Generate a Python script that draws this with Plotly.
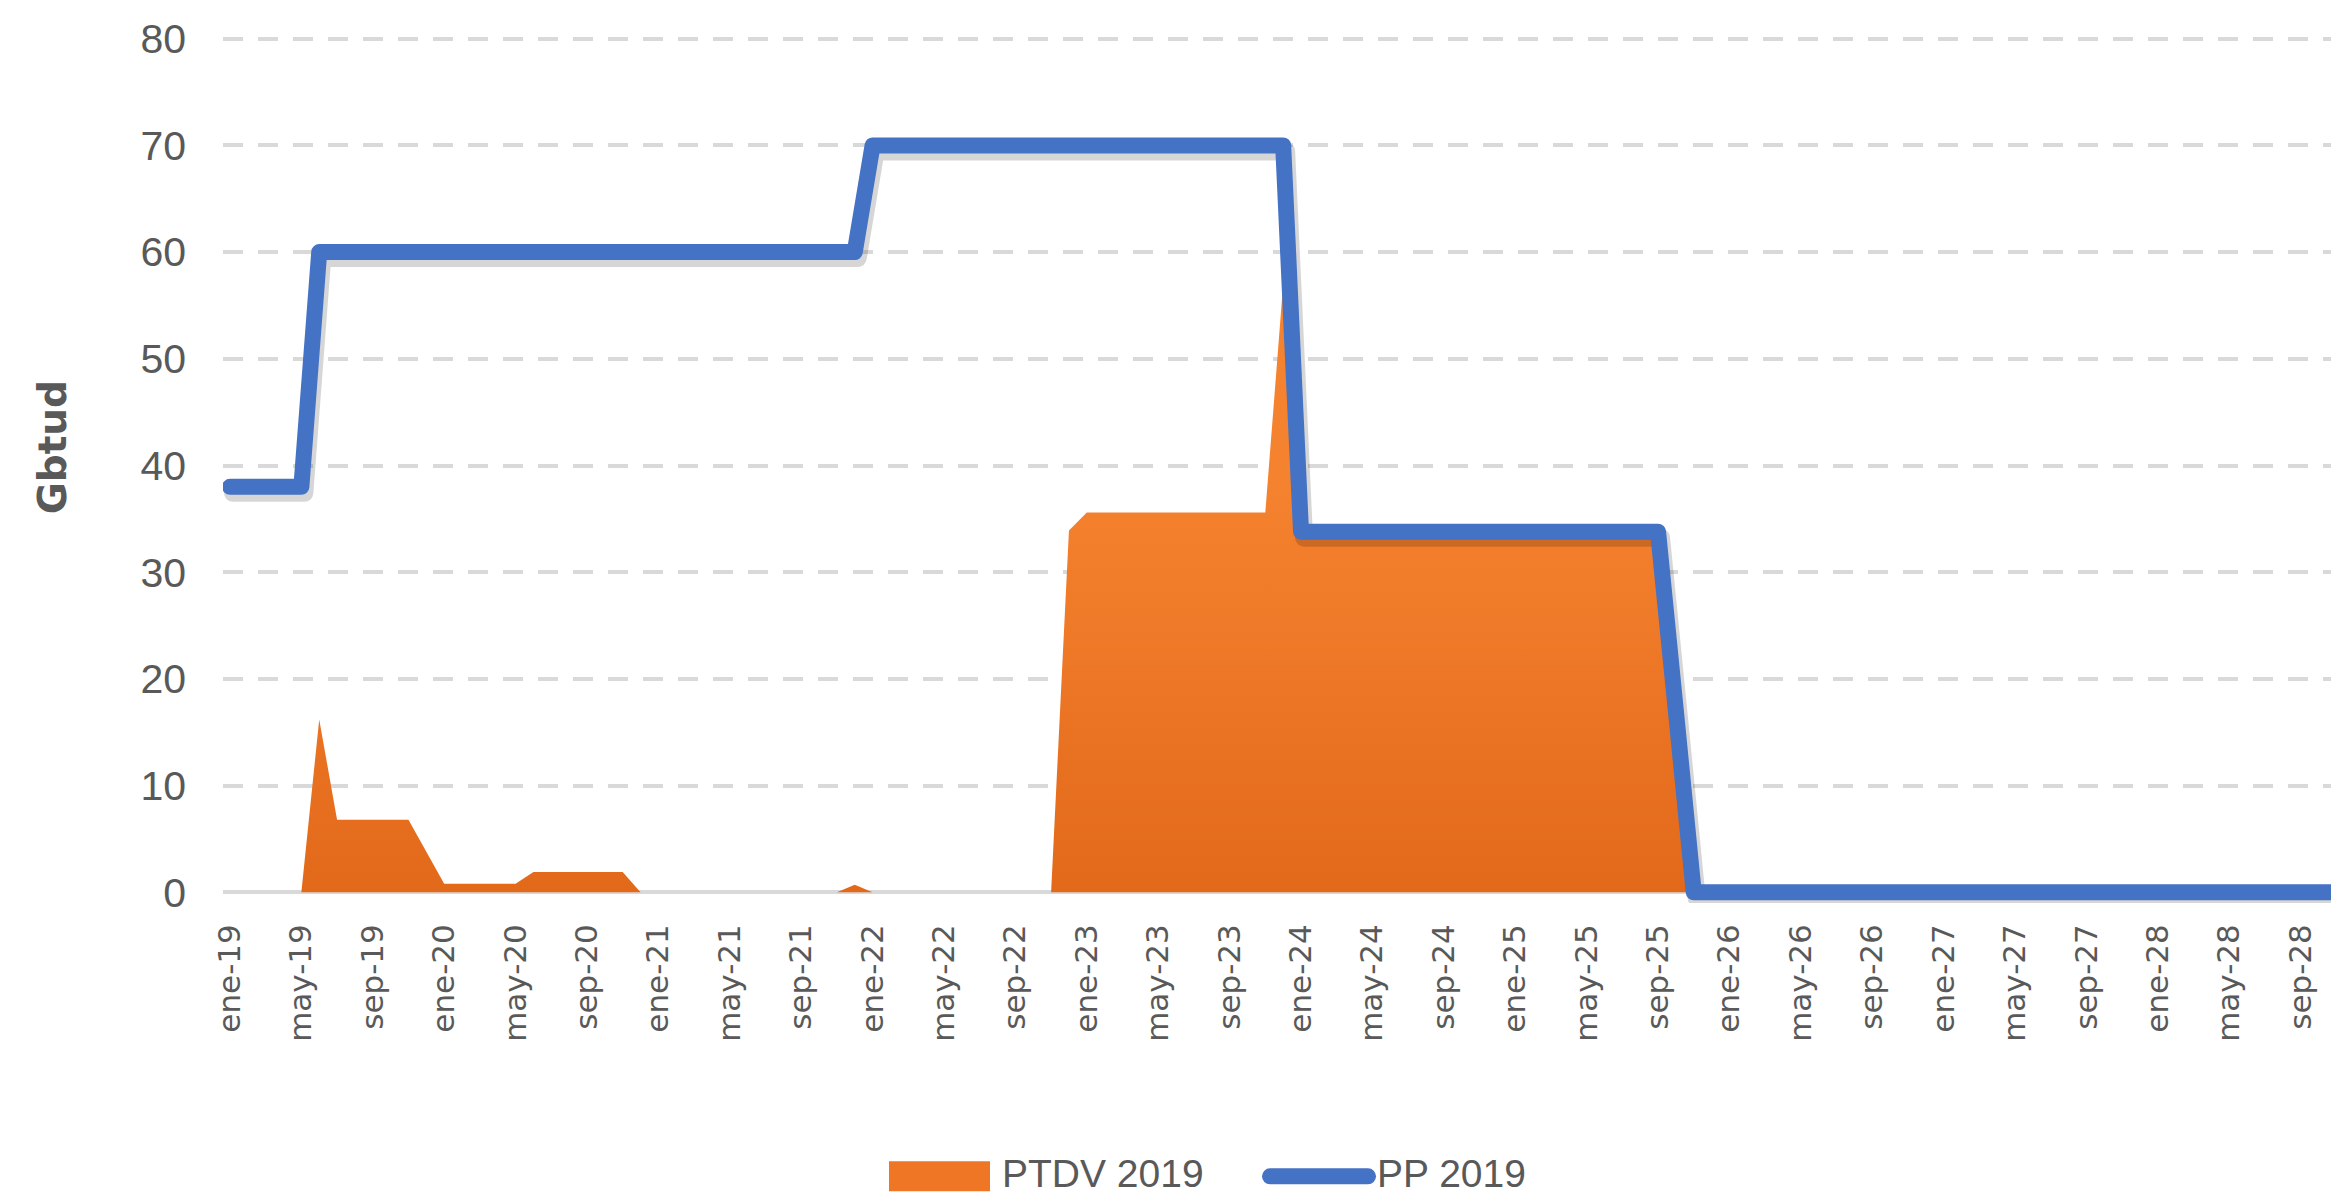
import plotly.graph_objects as go

# ---- data (monthly, ene-19 .. dic-28) ----
month_abbr = ["ene", "feb", "mar", "abr", "may", "jun", "jul", "ago", "sep", "oct", "nov", "dic"]
years = [19, 20, 21, 22, 23, 24, 25, 26, 27, 28]
months = [f"{m}-{y}" for y in years for m in month_abbr]

pp_2019 = [
    38, 38, 38, 38, 38, 60, 60, 60, 60, 60, 60, 60,              # 2019
    60, 60, 60, 60, 60, 60, 60, 60, 60, 60, 60, 60,              # 2020
    60, 60, 60, 60, 60, 60, 60, 60, 60, 60, 60, 60,              # 2021
    70, 70, 70, 70, 70, 70, 70, 70, 70, 70, 70, 70,              # 2022
    70, 70, 70, 70, 70, 70, 70, 70, 70, 70, 70, 70,              # 2023
    33.8, 33.8, 33.8, 33.8, 33.8, 33.8, 33.8, 33.8, 33.8, 33.8, 33.8, 33.8,  # 2024
    33.8, 33.8, 33.8, 33.8, 33.8, 33.8, 33.8, 33.8, 33.8, 17, 0, 0,          # 2025
    0, 0, 0, 0, 0, 0, 0, 0, 0, 0, 0, 0,                          # 2026
    0, 0, 0, 0, 0, 0, 0, 0, 0, 0, 0, 0,                          # 2027
    0, 0, 0, 0, 0, 0, 0, 0, 0, 0, 0, 0,                          # 2028
]

ptdv_2019 = [
    0, 0, 0, 0, 0, 16.2, 6.8, 6.8, 6.8, 6.8, 6.8, 3.8,           # 2019
    0.8, 0.8, 0.8, 0.8, 0.8, 1.9, 1.9, 1.9, 1.9, 1.9, 1.9, 0,    # 2020
    0, 0, 0, 0, 0, 0, 0, 0, 0, 0, 0, 0.7,                        # 2021
    0, 0, 0, 0, 0, 0, 0, 0, 0, 0, 0, 33.9,                       # 2022
    35.6, 35.6, 35.6, 35.6, 35.6, 35.6, 35.6, 35.6, 35.6, 35.6, 35.6, 57,    # 2023
    33.8, 33.8, 33.8, 33.8, 33.8, 33.8, 33.8, 33.8, 33.8, 33.8, 33.8, 33.8,  # 2024
    33.8, 33.8, 33.8, 33.8, 33.8, 33.8, 33.8, 33.8, 33.8, 17, 0, 0,          # 2025
    0, 0, 0, 0, 0, 0, 0, 0, 0, 0, 0, 0,                          # 2026
    0, 0, 0, 0, 0, 0, 0, 0, 0, 0, 0, 0,                          # 2027
    0, 0, 0, 0, 0, 0, 0, 0, 0, 0, 0, 0,                          # 2028
]

y_ticks = [0, 10, 20, 30, 40, 50, 60, 70, 80]
x_tick_step = 4

x_idx = list(range(len(months)))
x_tickvals = x_idx[::x_tick_step][:30]
x_ticktext = [months[i] for i in x_tickvals]

GRAY_TXT = "#595959"
ORANGE_DARK = "#E2691A"
ORANGE_LIGHT = "#F5822F"
BLUE = "#4472C4"

W, H = 2331, 1198
L, R, T, B = 223, 0, 27.7, 295.3
plot_w = W - L - R
plot_h = H - T - B

X_RANGE = [-0.39, 117.7]
Y_RANGE = [-1, 81]
px_per_x = plot_w / (X_RANGE[1] - X_RANGE[0])
px_per_y = plot_h / (Y_RANGE[1] - Y_RANGE[0])
# drop shadow offset of the blue line (pixels right / down)
SH_DX, SH_DY = 3, 6
X_RANGE_SH = [X_RANGE[0] - SH_DX / px_per_x, X_RANGE[1] - SH_DX / px_per_x]
Y_RANGE_SH = [Y_RANGE[0] + SH_DY / px_per_y, Y_RANGE[1] + SH_DY / px_per_y]


def px_to_paper_x(px):
    return (px - L) / plot_w


def px_to_paper_y(py):
    return (H - B - py) / plot_h


fig = go.Figure()

fig.add_trace(go.Scatter(
    x=x_idx, y=ptdv_2019, name="PTDV 2019", mode="lines",
    line=dict(width=0, color=ORANGE_DARK),
    fill="tozeroy",
    fillgradient=dict(type="vertical", start=0, stop=38,
                      colorscale=[[0, ORANGE_DARK], [1, ORANGE_LIGHT]]),
    showlegend=False, xaxis="x", yaxis="y",
))

# soft shadow under the blue line
fig.add_trace(go.Scatter(
    x=x_idx, y=pp_2019, name="PP 2019 shadow", mode="lines",
    line=dict(width=18, color="rgba(0,0,0,0.16)"),
    showlegend=False, hoverinfo="skip", xaxis="x2", yaxis="y2",
))

fig.add_trace(go.Scatter(
    x=x_idx, y=pp_2019, name="PP 2019", mode="lines",
    line=dict(width=16, color=BLUE),
    showlegend=False, xaxis="x3", yaxis="y3",
))

fig.update_layout(
    width=W, height=H,
    margin=dict(l=L, r=R, t=T, b=B, pad=0),
    paper_bgcolor="white", plot_bgcolor="white",
    showlegend=False,
    font=dict(family="Liberation Sans, Arial, sans-serif", color=GRAY_TXT),
    xaxis=dict(
        range=X_RANGE,
        tickmode="array", tickvals=x_tickvals, ticktext=x_ticktext,
        tickangle=-90,
        tickfont=dict(family="DejaVu Sans, Verdana, sans-serif", size=31, color=GRAY_TXT),
        ticks="", ticklabelstandoff=14,
        showgrid=False, zeroline=False, showline=False,
    ),
    yaxis=dict(
        range=Y_RANGE,
        tickmode="array", tickvals=y_ticks,
        tickfont=dict(family="Liberation Sans, Arial, sans-serif", size=41, color=GRAY_TXT),
        ticks="", ticklabelstandoff=36,
        showgrid=True, gridcolor="#D9D9D9", gridwidth=4, griddash="20px,15px",
        zeroline=True, zerolinecolor="#D9D9D9", zerolinewidth=4,
        showline=False,
    ),
    xaxis2=dict(range=X_RANGE_SH, overlaying="x", visible=False),
    yaxis2=dict(range=Y_RANGE_SH, overlaying="y", visible=False),
    xaxis3=dict(range=X_RANGE, overlaying="x", visible=False),
    yaxis3=dict(range=Y_RANGE, overlaying="y", visible=False),
)

# y-axis title
fig.add_annotation(xref="paper", yref="paper", x=px_to_paper_x(52), y=px_to_paper_y(447),
                   text="<b>Gbtud</b>", textangle=-90, showarrow=False,
                   xanchor="center", yanchor="middle",
                   font=dict(family="DejaVu Sans, Verdana, sans-serif", size=39, color=GRAY_TXT))

# ---- legend (drawn below the plot, as in the reference) ----
leg_y = 1176
fig.add_shape(type="rect", xref="paper", yref="paper",
              x0=px_to_paper_x(889), x1=px_to_paper_x(990),
              y0=px_to_paper_y(1191), y1=px_to_paper_y(1161),
              line=dict(width=0), fillcolor="#EE7625")
fig.add_annotation(xref="paper", yref="paper", x=px_to_paper_x(1001), y=px_to_paper_y(1196),
                   text="PTDV 2019", showarrow=False, xanchor="left", yanchor="bottom",
                   borderpad=0,
                   font=dict(family="Liberation Sans, Arial, sans-serif", size=39, color=GRAY_TXT))
fig.add_shape(type="line", xref="paper", yref="paper",
              x0=px_to_paper_x(1270), x1=px_to_paper_x(1368),
              y0=px_to_paper_y(leg_y), y1=px_to_paper_y(leg_y),
              line=dict(width=16, color=BLUE))
fig.add_annotation(xref="paper", yref="paper", x=px_to_paper_x(1376), y=px_to_paper_y(1196),
                   text="PP 2019", showarrow=False, xanchor="left", yanchor="bottom",
                   borderpad=0,
                   font=dict(family="Liberation Sans, Arial, sans-serif", size=39, color=GRAY_TXT))

post = """
document.body.style.margin='0px';
document.querySelectorAll('.scatterlayer .js-line').forEach(function(p){
  p.style.strokeLinecap='round'; p.style.strokeLinejoin='round';
});
document.querySelectorAll('.shapelayer path').forEach(function(p){
  p.style.strokeLinecap='round';
});
"""

fig.write_html("out.html", post_script=post, config={"displayModeBar": False})
